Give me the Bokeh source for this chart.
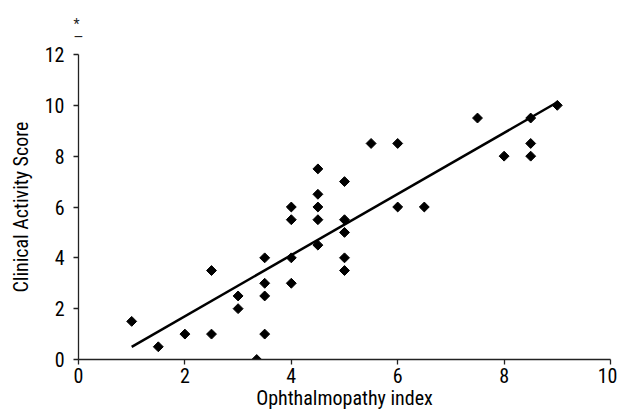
from bokeh.plotting import figure
from bokeh.models import Range1d, FixedTicker, Title
from bokeh.embed import file_html
from bokeh.resources import INLINE

# Data
oi = [1, 1.5, 2, 2.5, 2.5, 3, 3, 3.35, 3.5, 3.5, 3.5, 3.5,
      4, 4, 4, 4, 4.5, 4.5, 4.5, 4.5, 4.5,
      5, 5, 5, 5, 5, 5.5, 6, 6, 6.5, 7.5, 8, 8.5, 8.5, 8.5, 9]
cas = [1.5, 0.5, 1, 1, 3.5, 2, 2.5, 0, 1, 2.5, 3, 4,
       3, 4, 5.5, 6, 4.5, 5.5, 6, 6.5, 7.5,
       3.5, 4, 5, 5.5, 7, 8.5, 6, 8.5, 6, 9.5, 8, 8, 8.5, 9.5, 10]
fit_x = [1, 9]
fit_y = [0.5, 10.12]
x_ticks = [0, 2, 4, 6, 8, 10]
y_ticks = [0, 2, 4, 6, 8, 10, 12]

FONT = "Roboto Condensed, Liberation Sans Narrow, Roboto, sans-serif"

p = figure(width=617, height=412, output_backend="svg", toolbar_location=None,
           x_range=Range1d(0, 10), y_range=Range1d(0, 12),
           min_border_left=78, min_border_right=7, min_border_top=54, min_border_bottom=52)
p.outline_line_color = None
p.xgrid.visible = False
p.ygrid.visible = False
p.background_fill_color = "white"
p.border_fill_color = "white"

p.line(fit_x, fit_y, line_color="black", line_width=2.5)
p.scatter(oi, cas, marker="square", size=7, angle=0.785398,
          fill_color="black", line_color="black")

for ax in (p.xaxis[0], p.yaxis[0]):
    ax.axis_line_color = "#222222"
    ax.axis_line_width = 1.3
    ax.major_tick_line_color = "#222222"
    ax.major_tick_line_width = 1.3
    ax.major_tick_out = 5
    ax.major_tick_in = 0
    ax.minor_tick_line_color = None
    ax.major_label_text_font = FONT
    ax.major_label_text_font_size = "20px"
    ax.major_label_text_color = "black"
    ax.axis_label_text_font = FONT
    ax.axis_label_text_font_size = "20px"
    ax.axis_label_text_font_style = "normal"
    ax.axis_label_text_color = "black"

p.xaxis.ticker = FixedTicker(ticks=x_ticks)
p.yaxis.ticker = FixedTicker(ticks=y_ticks)
p.xaxis.axis_label = "Ophthalmopathy index"
p.yaxis.axis_label = "Clinical Activity Score"
p.xaxis.major_label_standoff = 3
p.yaxis.major_label_standoff = 9
p.xaxis.axis_label_standoff = 0
p.yaxis.axis_label_standoff = 9

# significance marker above the y axis
p.add_layout(Title(text="*\n\u2014", align="left", offset=-5, standoff=19,
                   text_font=FONT, text_font_size="14px", text_font_style="normal",
                   text_line_height=0.8, text_color="#222222"), "above")

open("out.html", "w").write(file_html(p, INLINE))
